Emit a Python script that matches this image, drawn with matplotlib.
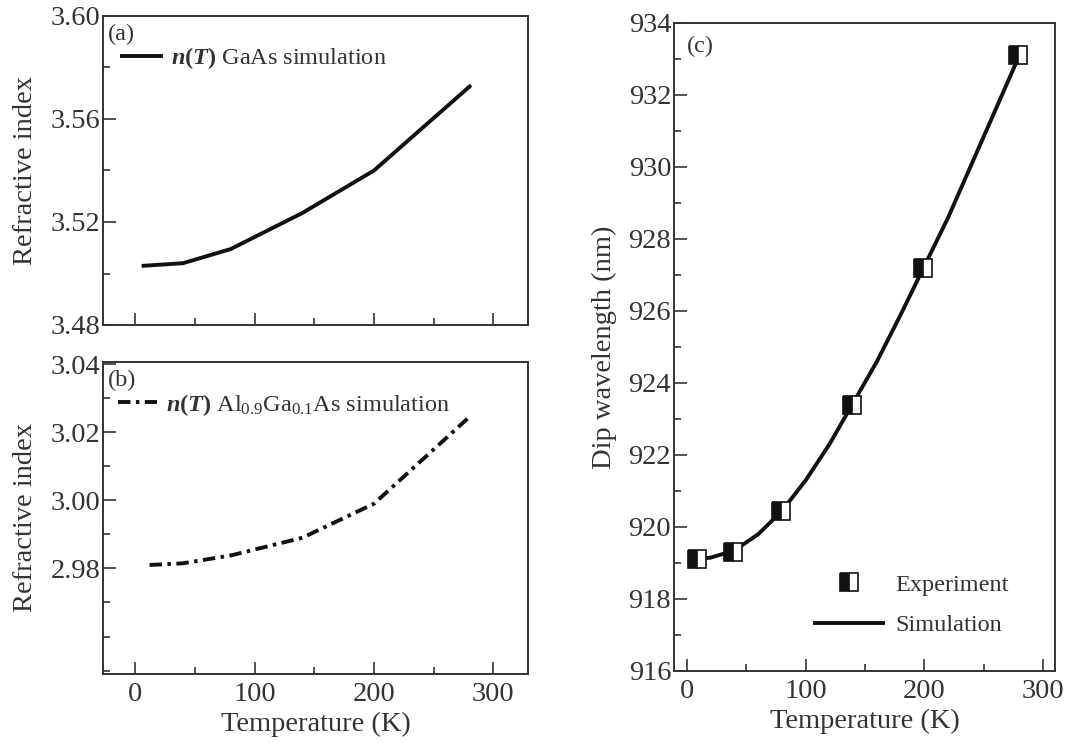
import matplotlib
matplotlib.use("Agg")
import matplotlib.pyplot as plt
from matplotlib.ticker import MultipleLocator

plt.rcParams['font.family'] = ['Liberation Serif', 'DejaVu Serif']
plt.rcParams['mathtext.fontset'] = 'custom'
plt.rcParams['mathtext.rm'] = 'Liberation Serif'
plt.rcParams['mathtext.it'] = 'Liberation Serif:italic'
plt.rcParams['mathtext.bf'] = 'Liberation Serif:bold'
plt.rcParams['mathtext.bfit'] = 'Liberation Serif:italic:bold'

# ---------------- data ----------------
temp_gaas = [7, 40, 80, 140, 200, 280]
n_gaas = [3.503, 3.504, 3.5095, 3.5235, 3.540, 3.5726]

temp_algaas = [12, 40, 80, 140, 200, 280]
n_algaas = [2.981, 2.9815, 2.9838, 2.989, 2.999, 3.0245]

temp_exp = [8, 39, 79, 139, 199, 279]
dip_exp = [919.1, 919.3, 920.45, 923.4, 927.2, 933.1]

temp_sim = [7, 20, 40, 60, 80, 100, 120, 140, 160, 180, 200, 220, 240, 260, 280]
dip_sim = [919.1, 919.15, 919.35, 919.8, 920.45, 921.3, 922.3, 923.45,
           924.6, 925.9, 927.25, 928.6, 930.1, 931.6, 933.1]

x_ticks = [0, 100, 200, 300]
ya_ticks = [3.48, 3.52, 3.56, 3.60]
yb_ticks = [2.98, 3.00, 3.02, 3.04]
yc_ticks = [916, 918, 920, 922, 924, 926, 928, 930, 932, 934]

W, H = 1069, 743
fig = plt.figure(figsize=(W / 100, H / 100), dpi=100)

def frac(l, t, r, b):
    return [l / W, 1 - b / H, (r - l) / W, (b - t) / H]

ax_a = fig.add_axes(frac(103, 16, 528, 325))
ax_b = fig.add_axes(frac(103, 362, 528, 674))
ax_c = fig.add_axes(frac(674, 23, 1055, 671))

spine_col = '#333333'
txt_col = '#333333'
FS = 20.5
LFS = 17.5

def style(ax):
    for s in ax.spines.values():
        s.set_linewidth(1.4)
        s.set_color(spine_col)
    ax.tick_params(which='both', direction='in', top=False, right=False,
                   color=spine_col, width=1.2, labelsize=FS, labelcolor=txt_col)
    ax.tick_params(which='major', length=9)
    ax.tick_params(which='minor', length=5)
    ax.tick_params(axis='x', which='major', pad=6)
    ax.tick_params(axis='y', which='major', pad=2)

lw = 2.8
leg_a = r'$\mathbfit{n}\mathbf{(}\mathbfit{T}\mathbf{)}$ GaAs simulation'
leg_b = r'$\mathbfit{n}\mathbf{(}\mathbfit{T}\mathbf{)}$ Al$_{0.9}$Ga$_{0.1}$As simulation'

# (a)
ax_a.plot(temp_gaas, n_gaas, color='#111111', lw=lw, label=leg_a)
ax_a.set_xlim(-27, 329)
ax_a.set_ylim(3.48, 3.60)
ax_a.set_xticks(x_ticks)
ax_a.set_xticklabels([])
ax_a.xaxis.set_minor_locator(MultipleLocator(50))
ax_a.set_yticks(ya_ticks)
ax_a.set_yticklabels([f'{v:.2f}' for v in ya_ticks])
ax_a.yaxis.set_minor_locator(MultipleLocator(0.02))
ax_a.set_ylabel('Refractive index', fontsize=FS, color=txt_col, labelpad=9)
ax_a.text(0.012, 0.975, '(a)', transform=ax_a.transAxes, fontsize=LFS, va='top', ha='left', color=txt_col)
style(ax_a)
ax_a.legend(loc='upper left', bbox_to_anchor=(0.045, 0.905), frameon=False, fontsize=LFS,
            handlelength=1.6, handletextpad=0.4, borderpad=0, borderaxespad=0, labelcolor=txt_col)

# (b)
ax_b.plot(temp_algaas, n_algaas, color='#111111', lw=lw, linestyle=(0, (3.2, 1.4, 0.9, 1.4)),
          label=leg_b)
ax_b.set_xlim(-27, 329)
ax_b.set_ylim(2.949, 3.0406)
ax_b.set_xticks(x_ticks)
ax_b.xaxis.set_minor_locator(MultipleLocator(50))
ax_b.set_yticks(yb_ticks)
ax_b.set_yticklabels([f'{v:.2f}' for v in yb_ticks])
ax_b.yaxis.set_minor_locator(MultipleLocator(0.01))
ax_b.set_ylabel('Refractive index', fontsize=FS, color=txt_col, labelpad=9)
ax_b.set_xlabel('Temperature (K)', fontsize=FS, color=txt_col, labelpad=3)
ax_b.text(0.012, 0.975, '(b)', transform=ax_b.transAxes, fontsize=LFS, va='top', ha='left', color=txt_col)
style(ax_b)
ax_b.legend(loc='upper left', bbox_to_anchor=(0.035, 0.905), frameon=False, fontsize=LFS,
            handlelength=1.6, handletextpad=0.4, borderpad=0, borderaxespad=0, labelcolor=txt_col)

# (c)
ax_c.plot(temp_sim, dip_sim, color='#111111', lw=lw, label='Simulation', zorder=2)
ax_c.plot(temp_exp, dip_exp, linestyle='none', marker='s', markersize=13, fillstyle='left',
          markerfacecolor='#111111', markerfacecoloralt='white', markeredgecolor='#111111',
          markeredgewidth=1.2, label='Experiment', zorder=3)
ax_c.set_xlim(-11, 310)
ax_c.set_ylim(916, 934)
ax_c.set_xticks(x_ticks)
ax_c.xaxis.set_minor_locator(MultipleLocator(50))
ax_c.set_yticks(yc_ticks)
ax_c.yaxis.set_minor_locator(MultipleLocator(1))
ax_c.set_ylabel('Dip wavelength (nm)', fontsize=FS, color=txt_col, labelpad=8)
ax_c.set_xlabel('Temperature (K)', fontsize=FS, color=txt_col, labelpad=3)
ax_c.text(0.035, 0.98, '(c)', transform=ax_c.transAxes, fontsize=LFS, va='top', ha='left', color=txt_col)
style(ax_c)
h, l = ax_c.get_legend_handles_labels()
ax_c.legend([h[1], h[0]], [l[1], l[0]], loc='upper left', bbox_to_anchor=(0.37, 0.15),
            frameon=False, fontsize=LFS, handlelength=2.8, handletextpad=0.5,
            borderpad=0, borderaxespad=0, labelspacing=0.75, labelcolor=txt_col)

fig.savefig('out.png', dpi=100)
